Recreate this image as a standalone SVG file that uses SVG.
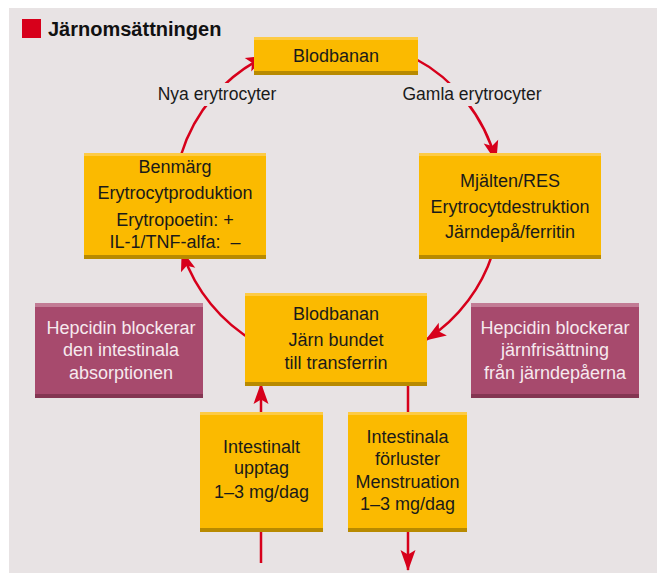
<svg xmlns="http://www.w3.org/2000/svg" width="657" height="573" viewBox="0 0 657 573">
<defs>
<style>
text{font-family:"Liberation Sans",Arial,sans-serif;font-size:18px;fill:#1a1a1a;text-anchor:middle}
.title{font-weight:bold;font-size:20px;text-anchor:start;fill:#111}
.lbl{font-size:17.5px}
.wt{fill:#f6e9ee}
.y{fill:#FBBA00}
.yt{fill:#FDCB45}
.yb{fill:#B88A00}
.m{fill:#A74A6D}
.mt{fill:#C27C95}
.mb{fill:#843652}
.arc{fill:none;stroke:#D7001B;stroke-width:2.5;marker-end:url(#ah)}
.ln{fill:none;stroke:#D7001B;stroke-width:2.5}
</style>
<marker id="ah" markerUnits="userSpaceOnUse" viewBox="-24 -12 26 24" refX="0" refY="0" markerWidth="26" markerHeight="24" orient="auto" overflow="visible">
<path d="M1,0 L-20,-7.5 L-15.5,0 L-20,7.5 Z" fill="#D7001B"/>
</marker>
</defs>
<rect x="9" y="8" width="648" height="565" fill="#E8E3E4"/>
<g id="title">
<rect x="22" y="19" width="19" height="19" fill="#D7001B"/>
<text class="title" x="48" y="36">Järnomsättningen</text>
</g>
<g id="connectors">
<path class="arc" d="M181,155 A163,163 0 0 1 266,56"/>
<path class="arc" d="M414,58 A163,163 0 0 1 496,161"/>
<path class="arc" d="M494,249 A163,163 0 0 1 426,340"/>
<path class="arc" d="M257,343 A163,163 0 0 1 182,251"/>
<path class="ln" d="M261,563 V532"/>
<path class="arc" d="M261,412 V384"/>
<path class="ln" d="M408,386 V412"/>
<path class="arc" d="M408,532 V570"/>
</g>
<g id="label-nya">
<rect x="153" y="83" width="128" height="23" fill="#E8E3E4"/>
<text class="lbl" x="217" y="100">Nya erytrocyter</text>
</g>
<g id="label-gamla">
<rect x="398" y="83" width="148" height="23" fill="#E8E3E4"/>
<text class="lbl" x="472" y="100">Gamla erytrocyter</text>
</g>
<g id="blodbanan-top">
<rect class="y" x="254" y="37" width="164" height="38"/>
<rect class="yt" x="254" y="37" width="164" height="3"/>
<rect class="yb" x="254" y="71" width="164" height="4"/>
<text x="336" y="62">Blodbanan</text>
</g>
<g id="benmarg">
<rect class="y" x="84" y="153" width="182" height="106"/>
<rect class="yt" x="84" y="153" width="182" height="3"/>
<rect class="yb" x="84" y="255" width="182" height="4"/>
<text x="175" y="173">Benmärg</text>
<text x="175" y="199">Erytrocytproduktion</text>
<text x="175" y="226">Erytropoetin: +</text>
<text x="175" y="248" xml:space="preserve">IL-1/TNF-alfa:  –</text>
</g>
<g id="mjalten">
<rect class="y" x="419" y="153" width="182" height="106"/>
<rect class="yt" x="419" y="153" width="182" height="3"/>
<rect class="yb" x="419" y="255" width="182" height="4"/>
<text x="510" y="187">Mjälten/RES</text>
<text x="510" y="213">Erytrocytdestruktion</text>
<text x="510" y="238">Järndepå/ferritin</text>
</g>
<g id="blodbanan-mid">
<rect class="y" x="245" y="293" width="182" height="93"/>
<rect class="yt" x="245" y="293" width="182" height="3"/>
<rect class="yb" x="245" y="382" width="182" height="4"/>
<text x="336" y="320">Blodbanan</text>
<text x="336" y="346">Järn bundet</text>
<text x="336" y="369">till transferrin</text>
</g>
<g id="hepcidin-left">
<rect class="m" x="35" y="303" width="168" height="95"/>
<rect class="mt" x="35" y="303" width="168" height="4"/>
<rect class="mb" x="35" y="394" width="168" height="4"/>
<text class="wt" x="121" y="334">Hepcidin blockerar</text>
<text class="wt" x="121" y="356">den intestinala</text>
<text class="wt" x="121" y="379">absorptionen</text>
</g>
<g id="hepcidin-right">
<rect class="m" x="471" y="303" width="168" height="95"/>
<rect class="mt" x="471" y="303" width="168" height="4"/>
<rect class="mb" x="471" y="394" width="168" height="4"/>
<text class="wt" x="555" y="334">Hepcidin blockerar</text>
<text class="wt" x="555" y="356">järnfrisättning</text>
<text class="wt" x="555" y="379">från järndepåerna</text>
</g>
<g id="intestinalt">
<rect class="y" x="200" y="412" width="123" height="120"/>
<rect class="yt" x="200" y="412" width="123" height="3"/>
<rect class="yb" x="200" y="528" width="123" height="4"/>
<text x="261.5" y="453">Intestinalt</text>
<text x="261.5" y="474">upptag</text>
<text x="261.5" y="498">1–3 mg/dag</text>
</g>
<g id="intestinala">
<rect class="y" x="348" y="412" width="119" height="120"/>
<rect class="yt" x="348" y="412" width="119" height="3"/>
<rect class="yb" x="348" y="528" width="119" height="4"/>
<text x="407.5" y="443">Intestinala</text>
<text x="407.5" y="465">förluster</text>
<text x="407.5" y="488">Menstruation</text>
<text x="407.5" y="510">1–3 mg/dag</text>
</g>
</svg>
